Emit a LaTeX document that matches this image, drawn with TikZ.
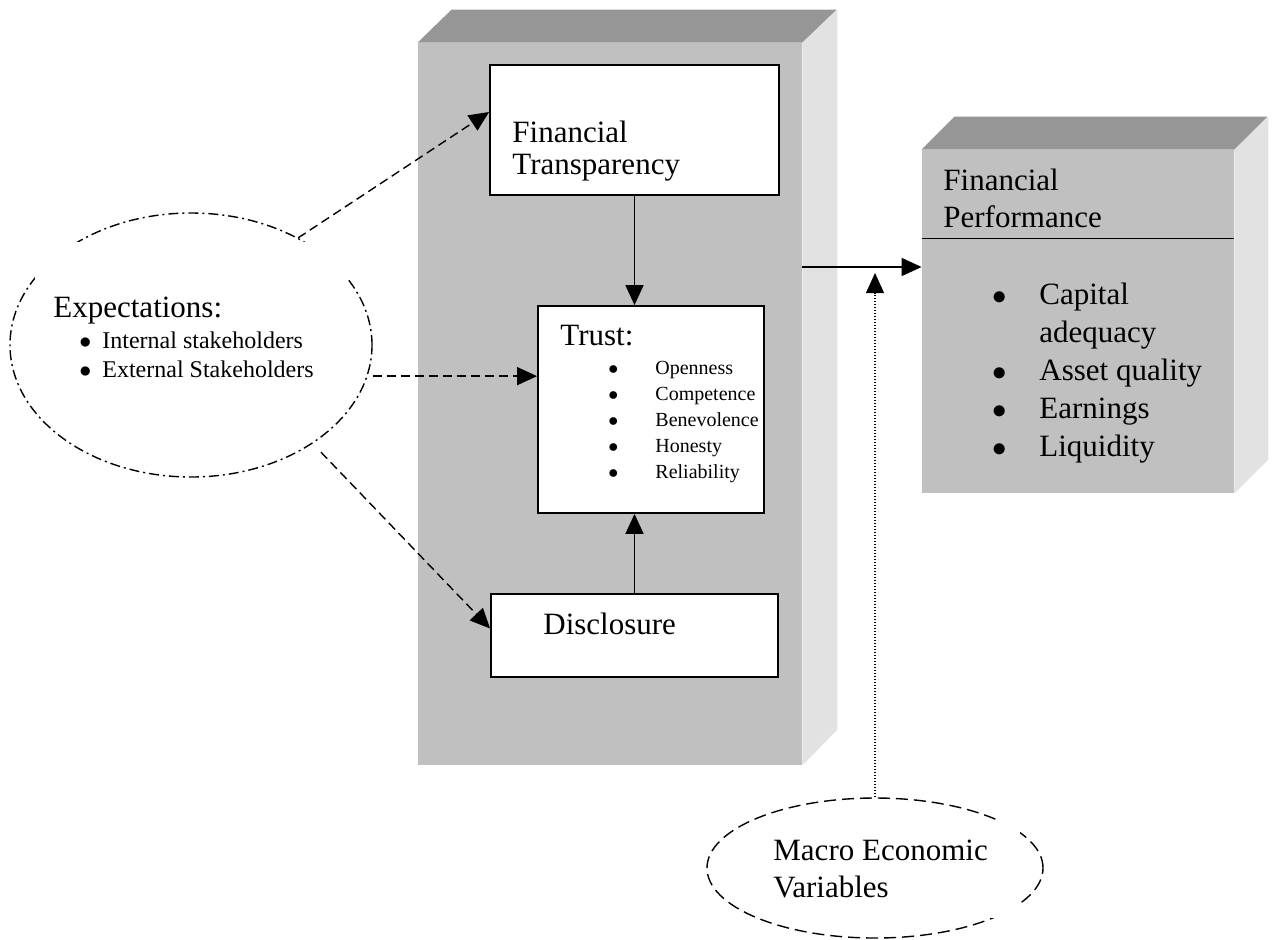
\documentclass[tikz,border=0pt]{standalone}
\usepackage{fontspec}
\setmainfont{Liberation Serif}
\usetikzlibrary{shapes.geometric,arrows.meta}
\definecolor{topgray}{RGB}{150,150,150}
\definecolor{frontgray}{RGB}{192,192,192}
\definecolor{sidegray}{RGB}{226,226,226}
\newcommand{\bul}{\ensuremath{\bullet}}
\begin{document}
\begin{tikzpicture}[x=0.5pt,y=-0.5pt,
  frontface/.style={rectangle, fill=frontgray, draw=none, inner sep=0pt},
  topface/.style={fill=topgray},
  sideface/.style={fill=sidegray},
  whitebox/.style={rectangle, fill=white, draw=black, line width=0.9pt, inner sep=0pt},
  coverbox/.style={rectangle, fill=white, draw=none, inner sep=0pt},
  txt/.style={anchor=base west, inner sep=0pt, font=\fontsize{15.5pt}{18.5pt}\selectfont},
  listtxt/.style={anchor=base west, inner sep=0pt},
  tipstyle/.style={-{Triangle[length=10pt,width=9pt]}},
  solidarr/.style={tipstyle, line width=0.8pt},
  dasharr/.style={tipstyle, line width=0.7pt, dash pattern=on 4.5pt off 2.5pt},
  dotarr/.style={tipstyle, line width=0.6pt, dash pattern=on 0.7pt off 0.8pt},
  dashdotell/.style={ellipse, draw, line width=0.7pt, dash pattern=on 5pt off 2pt on 1pt off 2pt, inner sep=0pt},
  dashell/.style={ellipse, draw, line width=0.7pt, dash pattern=on 6pt off 3pt, inner sep=0pt},
]
\useasboundingbox (0,0) rectangle (1272,939);

% big 3D box
\node[frontface, minimum width=192pt, minimum height=361pt] (big) at (610,404) {};
\fill[topface] (big.north west) -- ++(34,-33) -- ++(385,0) -- (big.north east) -- cycle;
\fill[sideface] (big.north east) -- ++(35,-33) -- ++(0,720) -- (big.south east) -- cycle;

% financial performance 3D box
\node[frontface, minimum width=156pt, minimum height=171.5pt] (fp) at (1078,321.5) {};
\fill[topface] (fp.north west) -- ++(33,-33) -- ++(313,0) -- (fp.north east) -- cycle;
\fill[sideface] (fp.north east) -- ++(34,-33) -- ++(0,343) -- (fp.south east) -- cycle;
\draw[line width=0.8pt] ([yshift=-44.5pt]fp.north west) -- ([yshift=-44.5pt]fp.north east);
\node[txt] (fptitle) at (943,190) {\parbox[t]{150pt}{\fontsize{15.5pt}{18.5pt}\selectfont Financial\\Performance}};
\node[listtxt] (fplist) at (992,304) {\parbox[t]{130pt}{\fontsize{15.5pt}{19pt}\selectfont
  \makebox[23.5pt][l]{\bul}Capital\\
  \hspace*{23.5pt}adequacy\\
  \makebox[23.5pt][l]{\bul}Asset quality\\
  \makebox[23.5pt][l]{\bul}Earnings\\
  \makebox[23.5pt][l]{\bul}Liquidity}};

% inner boxes
\node[whitebox, minimum width=144.5pt, minimum height=65pt] (ft) at (634.5,130) {};
\node[whitebox, minimum width=113pt, minimum height=103.5pt] (trust) at (651,409.5) {};
\node[whitebox, minimum width=143.5pt, minimum height=41.5pt] (disc) at (634.5,635.5) {};

\node[txt] (ftlabel) at (512,142) {\parbox[t]{150pt}{\fontsize{15.5pt}{16pt}\selectfont Financial\\Transparency}};
\node[txt] (trusttitle) at (560,345) {Trust:};
\node[listtxt] (trustlist) at (608,374) {\parbox[t]{100pt}{\fontsize{10pt}{13pt}\selectfont
  \makebox[23.5pt][l]{\bul}Openness\\
  \makebox[23.5pt][l]{\bul}Competence\\
  \makebox[23.5pt][l]{\bul}Benevolence\\
  \makebox[23.5pt][l]{\bul}Honesty\\
  \makebox[23.5pt][l]{\bul}Reliability}};
\node[txt] (disclabel) at (543,634) {Disclosure};

% expectations ellipse
\node[dashdotell, minimum width=181pt, minimum height=132pt] (exp) at (191,345) {};
\node[coverbox, minimum width=156.5pt, minimum height=68pt] (expbox) at (191.5,310) {};
\begin{scope}
\clip (expbox.south west) rectangle (expbox.north east);
\node[txt] (exptitle) at (53,317) {Expectations:};
\node[listtxt] (explist) at (79,348) {\parbox[t]{150pt}{\fontsize{12pt}{14.5pt}\selectfont
  \makebox[11.5pt][l]{\bul}Internal stakeholders\\
  \makebox[11.5pt][l]{\bul}External Stakeholders}};
\end{scope}

% macro ellipse
\node[dashell, minimum width=168pt, minimum height=70pt] (macro) at (875,868) {};
\node[coverbox, minimum width=129pt, minimum height=49pt] (macrobox) at (891,869) {};
\node[txt] (macrolabel) at (773,860) {\parbox[t]{150pt}{\fontsize{15.5pt}{18.5pt}\selectfont Macro Economic\\Variables}};

% connectors
\draw[solidarr] (ft.south) -- (ft.south |- trust.north);
\draw[solidarr] (disc.north) -- (disc.north |- trust.south);
\coordinate (linky) at (0,267);
\draw[solidarr] (big.east |- linky) -- (fp.west |- linky);
\coordinate (mtip) at (875,273);
\draw[dotarr] (macro.north) -- (mtip);
\draw[dasharr] (exp.45) -- ([yshift=9pt]ft.west);
\draw[dasharr, shorten <=2.5pt] (exp.-10) -- (exp.-10 -| trust.west);
\draw[dasharr, shorten <=6pt] (exp.-39) -- ([yshift=3.5pt]disc.west);
\end{tikzpicture}
\end{document}
